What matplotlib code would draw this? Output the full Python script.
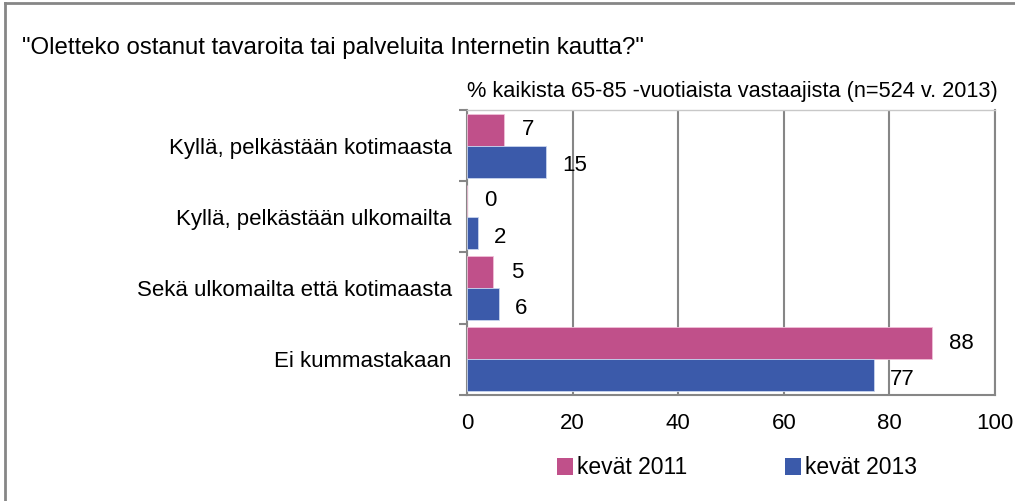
import matplotlib.pyplot as plt
import numpy as np
from matplotlib.lines import Line2D
from matplotlib.patches import Patch

plt.rcParams['font.family'] = ['Liberation Sans', 'DejaVu Sans']

categories = ['Kyllä, pelkästään kotimaasta', 'Kyllä, pelkästään ulkomailta',
              'Sekä ulkomailta että kotimaasta', 'Ei kummastakaan']
series_names = ['kevät 2011', 'kevät 2013']
values_2011 = [7, 0, 5, 88]
values_2013 = [15, 2, 6, 77]
x_ticks = [0, 20, 40, 60, 80, 100]

pink = '#C0508A'
blue = '#3B5AAA'
grey = '#868686'

W, H = 1015, 501
fig = plt.figure(figsize=(W / 100, H / 100), dpi=100)
ax = fig.add_axes([467 / W, 1 - 395 / H, (995 - 467) / W, (395 - 110) / H])

y = np.arange(len(categories))
h = 0.45
ax.barh(y - h / 2, values_2011, height=h, color=pink, edgecolor='#F0C0D8', linewidth=0.6, zorder=3)
ax.barh(y + h / 2, values_2013, height=h, color=blue, edgecolor='#C8D4EE', linewidth=0.6, zorder=3)

for i in range(len(categories)):
    ax.text(values_2011[i] + 3.3, y[i] - h / 2, str(values_2011[i]), va='center', ha='left',
            fontsize=16, zorder=4)
    ax.text(values_2013[i] + 3.0, y[i] + h / 2 + 0.06, str(values_2013[i]), va='center', ha='left',
            fontsize=16, zorder=4)

ax.set_xlim(0, 100)
ax.set_ylim(len(categories) - 0.5, -0.5)
ax.set_xticks(x_ticks)
ax.set_xticklabels([str(t) for t in x_ticks], fontsize=16)
ax.tick_params(axis='x', length=0, pad=13)
ax.xaxis.grid(True, color=grey, linewidth=1.5, zorder=0)

ax.set_yticks(y)
ax.set_yticklabels(categories, fontsize=16)
ax.tick_params(axis='y', which='major', length=0, pad=11)
ax.set_yticks(np.arange(len(categories) + 1) - 0.5, minor=True)
ax.tick_params(axis='y', which='minor', length=6, width=1.5, color=grey, direction='out')

for s in ax.spines.values():
    s.set_color(grey)
    s.set_linewidth(1.5)
ax.spines['top'].set_color('#C8C8C8')
ax.spines['top'].set_linewidth(1)

fig.text(22 / W, 1 - 48 / H, '"Oletteko ostanut tavaroita tai palveluita Internetin kautta?"',
         fontsize=17.3, ha='left', va='center')
fig.text(998 / W, 1 - 92 / H, '% kaikista 65-85 -vuotiaista vastaajista (n=524 v. 2013)',
         fontsize=15.7, ha='right', va='center')

handles = [Patch(facecolor=pink, edgecolor='none'), Patch(facecolor=blue, edgecolor='none')]
fig.legend(handles, series_names, loc='center', bbox_to_anchor=(737 / W, 1 - 468 / H), ncol=2,
           frameon=False, fontsize=16.5, handlelength=0.7, handleheight=0.7, handletextpad=0.15,
           columnspacing=4.3)

fig.add_artist(Line2D([5 / W, 1], [1 - 3 / H, 1 - 3 / H], color=grey, linewidth=2,
                      transform=fig.transFigure))
fig.add_artist(Line2D([5 / W, 5 / W], [0, 1 - 3 / H], color=grey, linewidth=2,
                      transform=fig.transFigure))

fig.savefig('out.png', dpi=100)
